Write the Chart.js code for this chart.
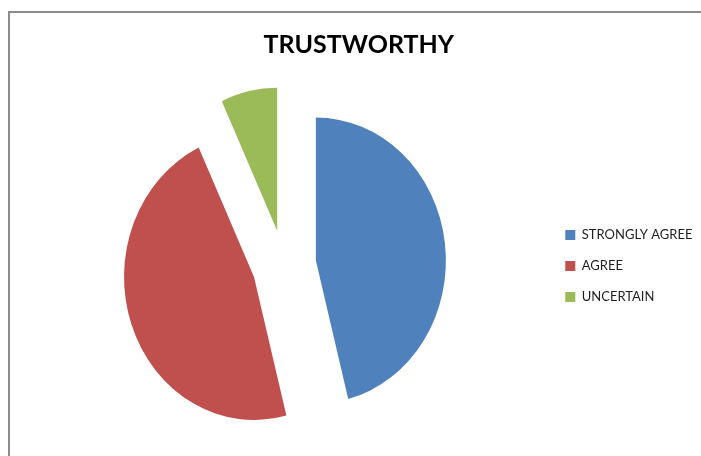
<!DOCTYPE html>
<html>
<head>
<meta charset="utf-8">
<title>TRUSTWORTHY</title>
<script src="https://cdn.jsdelivr.net/npm/chart.js@4.4.1/dist/chart.umd.min.js"></script>
<style>
  html, body { margin: 0; padding: 0; background: #fff; overflow: hidden; width: 701px; height: 456px; }
  /* grey chart frame, only its top and left sides are inside the window */
  #frame { position: absolute; left: 8px; top: 11px; width: 1000px; height: 1000px;
           border-top: 2px solid #8c8c8c; border-left: 2px solid #8c8c8c; }
  #trustChart { position: absolute; left: 0; top: 0; }
</style>
</head>
<body>
<div id="frame"></div>
<canvas id="trustChart" width="713" height="456"></canvas>
<script>
// answers and their share of the replies (%)
const labels = ['STRONGLY AGREE', 'AGREE', 'UNCERTAIN'];
const values = [46, 47, 7];
const colors = ['#4F81BD', '#C0504D', '#9BBB59'];

const EXPLODE = 32;       // how far every slice is pulled out from the middle
const STRETCH_Y = 1.1;    // the pie in the picture is a bit taller than wide
const TITLE_SHIFT = 3;    // title sits a bit left of the full width middle
const LEGEND_SHIFT = 1;   // legend sits a bit lower than the middle of the plot

// draw the slices pulled apart (and stretched a little) using chart.js own arc elements
const explodePlugin = {
  id: 'explode',
  afterLayout(chart) {
    chart.titleBlock.left -= TITLE_SHIFT;
    chart.titleBlock.right -= TITLE_SHIFT;
    chart.legend.top += LEGEND_SHIFT;
    chart.legend.bottom += LEGEND_SHIFT;
  },
  beforeDatasetsDraw(chart) {
    const ctx = chart.ctx;
    chart.getDatasetMeta(0).data.forEach(arc => {
      const mid = (arc.startAngle + arc.endAngle) / 2;
      ctx.save();
      ctx.translate(arc.x, arc.y);
      ctx.scale(1, STRETCH_Y);
      ctx.translate(Math.cos(mid) * EXPLODE - arc.x, Math.sin(mid) * EXPLODE - arc.y);
      arc.draw(ctx);
      ctx.restore();
    });
    return false; // skip the normal draw
  }
};

const ctx = document.getElementById('trustChart').getContext('2d');

new Chart(ctx, {
  type: 'pie',
  data: {
    labels: labels,
    datasets: [{
      data: values,
      backgroundColor: colors,
      borderWidth: 0
    }]
  },
  options: {
    responsive: false,
    animation: false,
    radius: 130,
    layout: { padding: { left: 21, right: 10.5, top: 0, bottom: 0 } },
    plugins: {
      title: {
        display: true,
        text: 'TRUSTWORTHY',
        color: '#000',
        font: { family: 'Lato', size: 25, weight: 'bold' },
        padding: { top: 30, bottom: 14 }
      },
      legend: {
        position: 'right',
        fullSize: false,
        labels: {
          boxWidth: 10,
          boxHeight: 10,
          padding: 18,
          color: '#1f1f1f',
          font: { family: 'Lato', size: 13 }
        }
      },
      tooltip: { enabled: false }
    }
  },
  plugins: [explodePlugin]
});
</script>
</body>
</html>
